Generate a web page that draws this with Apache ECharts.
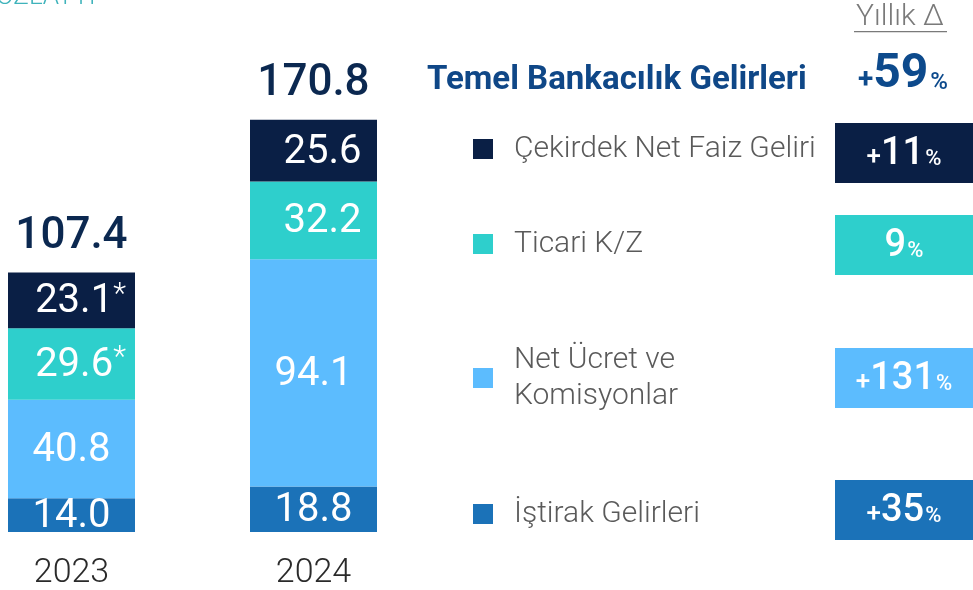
<!DOCTYPE html>
<html>
<head>
<meta charset="utf-8">
<script src="https://cdn.jsdelivr.net/npm/echarts@6/dist/echarts.min.js"></script>
<style>
html, body { margin: 0; background: #fff; }
#chart { width: 973px; height: 590px; }
</style>
</head>
<body>
<div id="chart"></div>
<script>
// data
var years = ['2023', '2024'];
var istirak = [14.0, 18.8];
var netUcret = [40.8, 94.1];
var ticari = [29.6, 32.2];
var cekirdek = [23.1, 25.6];
var totals = [107.4, 170.8];
var footnote = ['*', ''];   // 2023 figures marked with *
var legendNames = ['Çekirdek Net Faiz Geliri', 'Ticari K/Z', 'Net Ücret ve\nKomisyonlar', 'İştirak Gelirleri'];
var growth = ['+11', '9', '+131', '+35'];
var totalGrowth = '+59';

var C_NAVY = '#0a1f45', C_TEAL = '#2ecfcc', C_LIGHT = '#5cbcfe', C_MID = '#1b72b8';
var boxColors = [C_NAVY, C_TEAL, C_LIGHT, C_MID];
var FONT = 'Roboto';

var chart = echarts.init(document.getElementById('chart'));

function segLabel(mark) {
    return {
        show: true,
        position: 'inside',
        color: '#fff',
        fontFamily: FONT,
        fontSize: 40,
        offset: mark ? [9, 2] : [0, 2],
        formatter: function (p) {
            var s = p.value.toFixed(1);
            if (mark && footnote[p.dataIndex]) s += '{a|' + footnote[p.dataIndex] + '}';
            return s;
        },
        rich: {
            a: { fontSize: 30, color: '#fff', fontFamily: FONT, fontWeight: 300, verticalAlign: 'top', padding: [0, 0, 14, 0] }
        }
    };
}

function barSeries(name, data, color, mark) {
    return {
        name: name,
        type: 'bar',
        stack: 'total',
        barWidth: 127,
        data: data,
        itemStyle: { color: color },
        label: segLabel(mark),
        emphasis: { disabled: true },
        silent: true
    };
}

// right side panel: legend rows, growth boxes
var rowY = [149, 244, 378, 514];
var boxTop = [123, 215, 348, 480];
var graphics = [];

graphics.push({
    type: 'text', x: 427, y: 81,
    style: { text: 'Temel Bankacılık Gelirleri', font: 'bold 33px ' + FONT, fill: '#0f4787', verticalAlign: 'middle' }
});
graphics.push({
    type: 'text', x: 900, y: 17,
    style: { text: 'Yıllık Δ', font: '300 30px ' + FONT, fill: '#7a7a7a', align: 'center', verticalAlign: 'middle' }
});
graphics.push({
    type: 'rect', shape: { x: 854, y: 31, width: 93, height: 1.2 }, style: { fill: '#7a7a7a' }
});
graphics.push({
    type: 'text', x: 903, y: 75,
    style: {
        text: '{p|+}{n|' + totalGrowth.replace('+', '') + '}{c|%}',
        align: 'center', verticalAlign: 'middle',
        rich: {
            p: { font: 'bold 28px ' + FONT, fill: '#0d4a8c', verticalAlign: 'bottom', padding: [0, 0, 4, 0] },
            n: { font: 'bold 48px ' + FONT, fill: '#0d4a8c', verticalAlign: 'bottom' },
            c: { font: '500 24px ' + FONT, fill: '#0d4a8c', verticalAlign: 'bottom', padding: [0, 0, 4, 2] }
        }
    }
});

legendNames.forEach(function (name, i) {
    graphics.push({
        type: 'rect', shape: { x: 473, y: rowY[i] - 10, width: 20, height: 20 }, style: { fill: boxColors[i] }
    });
    graphics.push({
        type: 'text', x: 514, y: rowY[i],
        style: { text: name, font: '300 30px ' + FONT, fill: '#5a5a5a', verticalAlign: 'middle', lineHeight: 36 }
    });
    graphics.push({
        type: 'rect', shape: { x: 835, y: boxTop[i], width: 140, height: 60 }, style: { fill: boxColors[i] }
    });
    var g = growth[i];
    var hasPlus = g.charAt(0) === '+';
    var txt = (hasPlus ? '{p|+}' : '') + '{n|' + g.replace('+', '') + '}{c|%}';
    graphics.push({
        type: 'text', x: 904, y: boxTop[i] + 31,
        style: {
            text: txt, align: 'center', verticalAlign: 'middle',
            rich: {
                p: { font: '500 26px ' + FONT, fill: '#fff', verticalAlign: 'bottom', padding: [0, 0, 3, 0] },
                n: { font: '500 38px ' + FONT, fill: '#fff', verticalAlign: 'bottom' },
                c: { font: '500 22px ' + FONT, fill: '#fff', verticalAlign: 'bottom', padding: [0, 0, 3, 1] }
            }
        }
    });
});

// cropped heading at top-left
graphics.push({
    type: 'text', x: -4, y: -16,
    style: { text: 'ÖZLATTI', font: '300 26px ' + FONT, fill: '#3fb3bb' }
});

var option = {
    animation: false,
    grid: { left: -49.5, width: 484, top: 49, bottom: 58, containLabel: false, outerBoundsMode: 'none' },
    xAxis: {
        type: 'category',
        data: years,
        axisLine: { show: false },
        axisTick: { show: false },
        axisLabel: { color: '#2a2a2a', fontFamily: FONT, fontWeight: 300, fontSize: 34, margin: 24 }
    },
    yAxis: { type: 'value', min: 0, max: 200, show: false, splitLine: { show: false } },
    series: [
        barSeries('İştirak Gelirleri', istirak, C_MID, false),
        barSeries('Net Ücret ve Komisyonlar', netUcret, C_LIGHT, false),
        barSeries('Ticari K/Z', ticari, C_TEAL, true),
        barSeries('Çekirdek Net Faiz Geliri', cekirdek, C_NAVY, true),
        {
            name: 'Toplam',
            type: 'scatter',
            data: totals,
            symbolSize: 0,
            silent: true,
            itemStyle: { opacity: 1 },
            label: {
                show: true, position: 'top', distance: 14,
                color: '#0b2850', fontFamily: FONT, fontWeight: 500, fontSize: 44,
                formatter: function (p) { return p.value.toFixed(1); }
            }
        }
    ],
    graphic: graphics
};

chart.setOption(option);
</script>
</body>
</html>
